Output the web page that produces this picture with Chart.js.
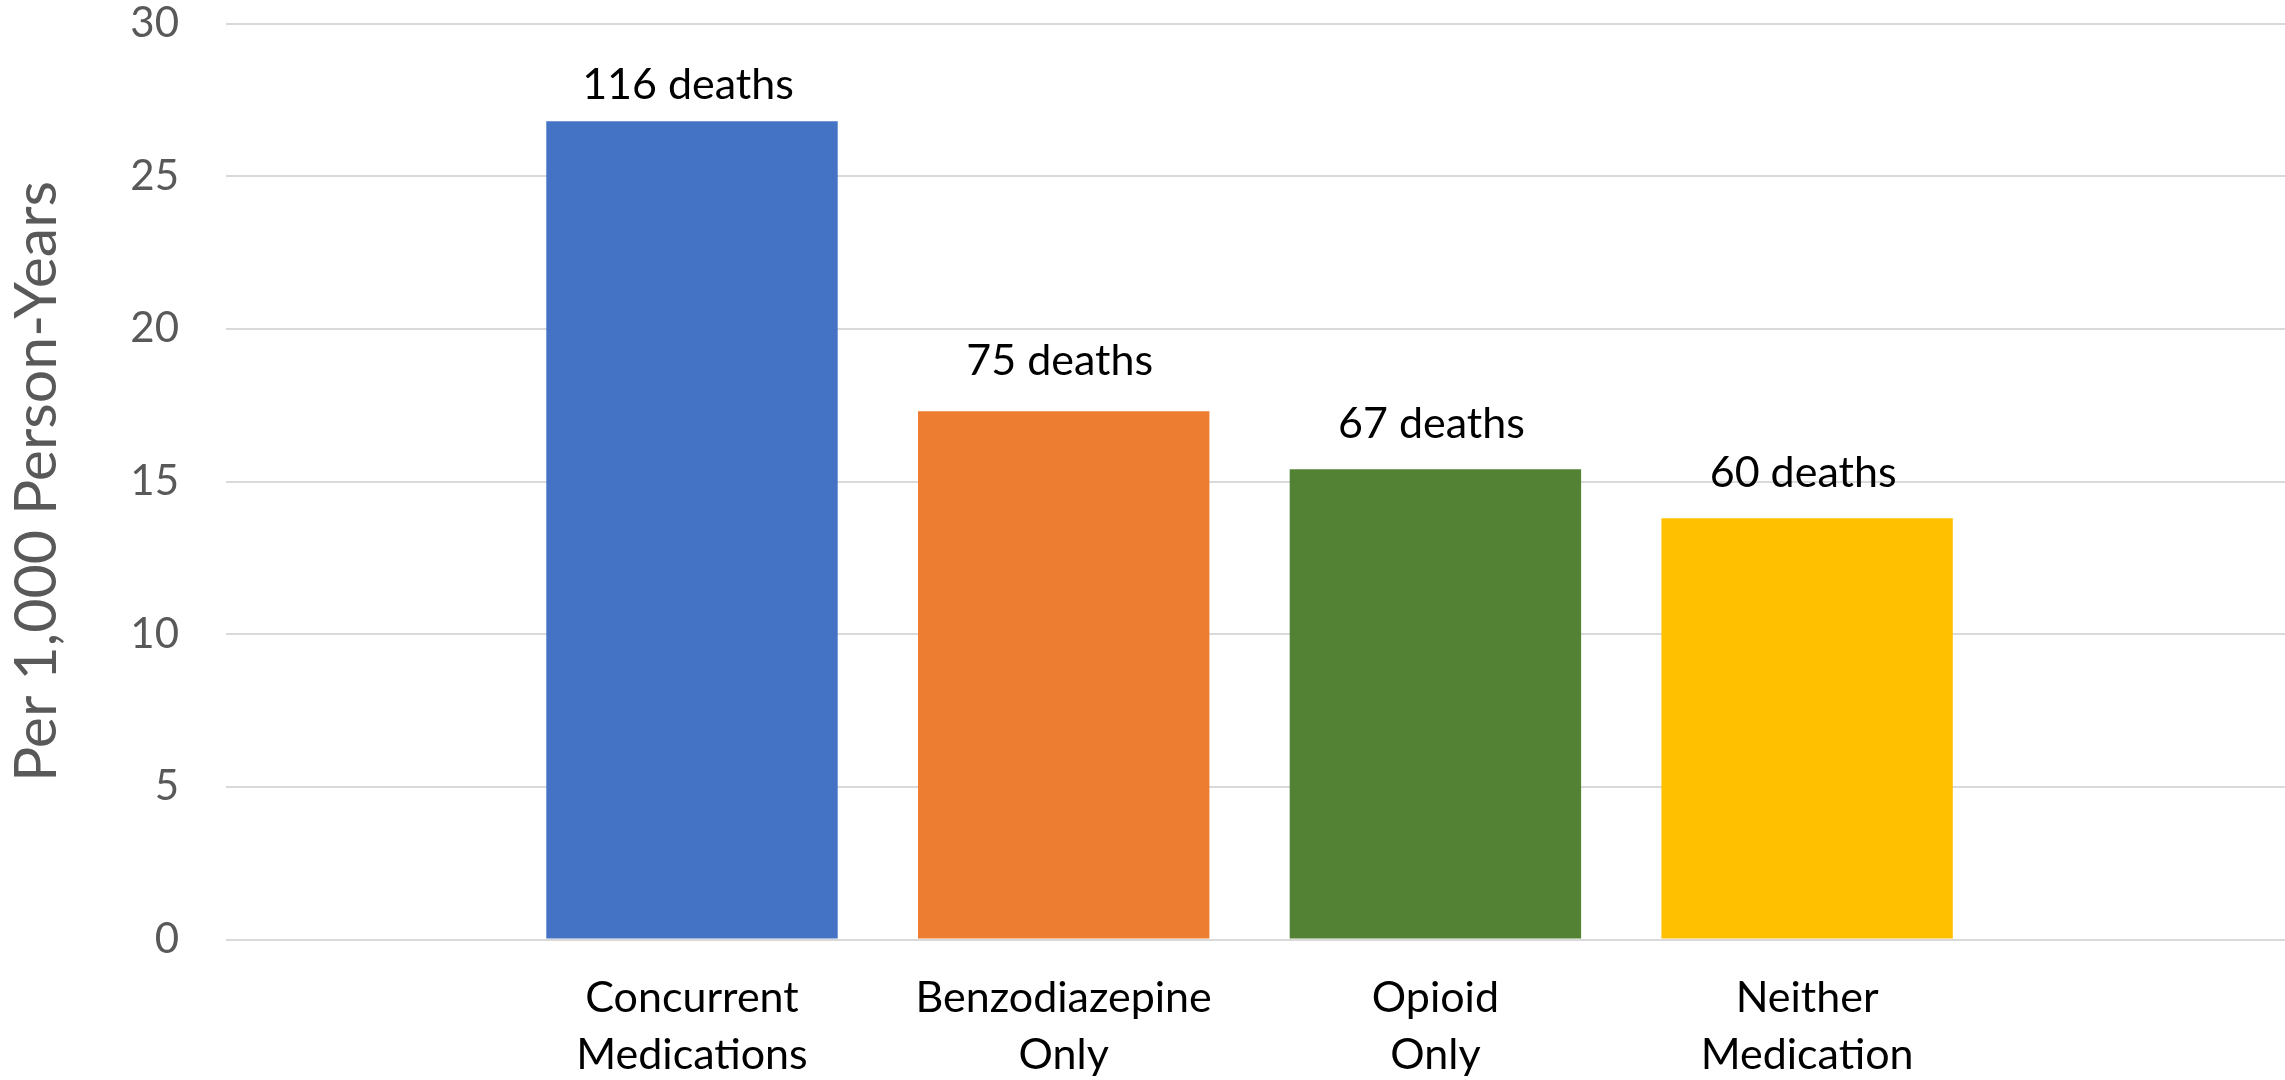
<!DOCTYPE html>
<html>
<head>
<meta charset="utf-8">
<script src="https://cdn.jsdelivr.net/npm/chart.js@4/dist/chart.umd.min.js"></script>
<style>
  html, body { margin: 0; padding: 0; background: #ffffff; }
  #wrap { width: 2285px; height: 1080px; }
</style>
</head>
<body>
<div id="wrap"><canvas id="c" width="2285" height="1080"></canvas></div>
<script>
// ---- data ----
const categories = [
  ["Concurrent", "Medications"],
  ["Benzodiazepine", "Only"],
  ["Opioid", "Only"],
  ["Neither", "Medication"]
];
const ratePer1000 = [26.8, 17.3, 15.4, 13.8];
const barLabels = ["116 deaths", "75 deaths", "67 deaths", "60 deaths"];
const barColors = ["#4472C4", "#ED7D31", "#548235", "#FFC000"];
const yTicks = [0, 5, 10, 15, 20, 25, 30];
const yTitle = "Per 1,000 Person-Years";

const FONT = "Lato";

const barLabelPlugin = {
  id: 'barLabelPlugin',
  afterDatasetsDraw(chart, args, opts) {
    const ctx = chart.ctx;
    const meta = chart.getDatasetMeta(0);
    ctx.save();
    ctx.font = `43px ${FONT}`;
    ctx.fillStyle = '#000000';
    ctx.textAlign = 'center';
    ctx.textBaseline = 'alphabetic';
    meta.data.forEach((bar, i) => {
      const gap = Array.isArray(opts.gap) ? opts.gap[i] : opts.gap;
      ctx.fillText(barLabels[i], bar.x - 4, bar.y - gap);
    });
    ctx.restore();
  }
};

new Chart(document.getElementById('c'), {
  type: 'bar',
  data: {
    datasets: [{
      data: ratePer1000.map((v, i) => ({ x: i, y: v })),
      backgroundColor: barColors,
      borderWidth: 0,
      barPercentage: 0.784,
      categoryPercentage: 1.0
    }]
  },
  options: {
    responsive: false,
    devicePixelRatio: 1,
    animation: false,
    layout: { padding: { top: 23.5, right: 0, bottom: 0, left: 0 } },
    plugins: {
      legend: { display: false },
      tooltip: { enabled: false },
      barLabelPlugin: { gap: [22, 36, 31, 31] }
    },
    scales: {
      x: {
        type: 'linear',
        offset: false,
        min: -1.2537,
        max: 4.2857,
        grid: { display: false, drawTicks: false, offset: false },
        border: { display: false },
        afterBuildTicks(scale) {
          scale.ticks = categories.map((c, i) => ({ value: i }));
        },
        afterFit(scale) {
          scale.height = 140.5;
          scale.paddingLeft = 0;
          scale.paddingRight = 0;
        },
        ticks: {
          autoSkip: false,
          maxRotation: 0,
          minRotation: 0,
          padding: 30,
          color: '#000000',
          font: { family: FONT, size: 43, lineHeight: 1.33 },
          callback: (value) => categories[value] || ''
        }
      },
      y: {
        min: 0,
        max: 30,
        afterBuildTicks(scale) {
          scale.ticks = yTicks.map(v => ({ value: v }));
        },
        afterFit(scale) {
          scale.width = 226;
          scale.paddingTop = 0;
          scale.paddingBottom = 0;
        },
        grid: { color: '#D9D9D9', lineWidth: 2, drawTicks: false },
        border: { display: false },
        ticks: {
          padding: 47,
          color: '#595959',
          font: { family: FONT, size: 42, lineHeight: 1.0 }
        },
        title: {
          display: true,
          text: yTitle,
          color: '#595959',
          font: { family: FONT, size: 59, lineHeight: 1.2 },
          padding: { top: 2, bottom: 0 }
        }
      }
    }
  },
  plugins: [barLabelPlugin]
});
</script>
</body>
</html>
